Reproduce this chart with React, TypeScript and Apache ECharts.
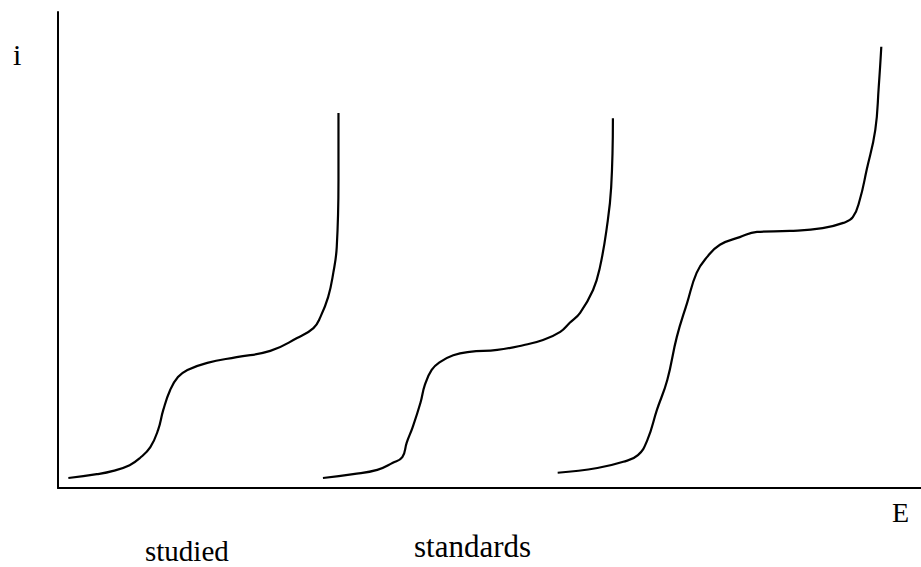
import React, { useEffect, useRef } from "react";
import * as echarts from "echarts";

// E (arbitrary units 0..100), i (arbitrary units 0..100)
const studiedE = [1.2, 4.5, 6.4, 8.3, 9.5, 10.7, 11.6, 12.2, 13.0, 13.9, 15.0, 17.3, 20.7, 24.6, 27.7, 29.6, 30.4, 31.3, 31.9, 32.3, 32.5, 32.5];
const studiedI = [2.1, 2.9, 3.6, 4.8, 6.3, 8.6, 12.2, 16.4, 20.6, 23.3, 24.8, 26.3, 27.5, 28.8, 31.5, 33.6, 35.9, 40.1, 45.2, 50.6, 64.7, 78.8];

const standard1E = [30.7, 34.2, 37.0, 38.8, 39.9, 40.4, 41.1, 42.0, 42.5, 43.3, 44.3, 45.8, 47.7, 50.9, 53.9, 56.2, 58.2, 59.3, 60.5, 62.0, 62.8, 63.6, 64.1, 64.3];
const standard1I = [2.1, 2.9, 3.8, 5.3, 6.5, 9.5, 12.8, 17.9, 21.6, 24.8, 26.5, 27.9, 28.6, 29.0, 30.0, 31.1, 32.8, 34.7, 36.8, 41.6, 46.4, 54.8, 63.2, 77.7];

const standard2E = [57.9, 62.5, 65.5, 67.2, 68.3, 69.4, 70.6, 71.7, 72.9, 74.0, 75.2, 76.7, 79.0, 81.0, 84.8, 88.6, 91.0, 92.1, 92.9, 93.7, 94.7, 95.1, 95.4];
const standard2I = [3.2, 4.2, 5.5, 6.9, 10.1, 16.4, 22.7, 31.7, 38.9, 45.2, 48.5, 51.1, 52.7, 53.8, 54.0, 54.6, 55.7, 56.9, 60.5, 66.8, 75.2, 84.2, 92.7];

const yLabel = "i";
const xLabel = "E";
const groupLabels = ["studied", "standards"];

const zip = (xs: number[], ys: number[]) => xs.map((x, k) => [x, ys[k]]);

export default function App() {
  const ref = useRef<HTMLDivElement>(null);
  useEffect(() => {
    if (!ref.current) return;
    const chart = echarts.init(ref.current, null, { renderer: "svg" });
    const font = '"Liberation Serif", "Times New Roman", serif';
    const lineSeries = (name: string, data: number[][]) => ({
      name,
      type: "line",
      data,
      smooth: 0.45,
      showSymbol: false,
      symbol: "none",
      lineStyle: { color: "#000", width: 2.2 },
    });
    chart.setOption({
      animation: false,
      backgroundColor: "#fff",
      grid: { left: 58, right: 0, top: 12, bottom: 79 },
      xAxis: {
        type: "value",
        min: 0,
        max: 100,
        axisLine: { show: true, lineStyle: { color: "#000", width: 2 } },
        axisTick: { show: false },
        axisLabel: { show: false },
        splitLine: { show: false },
      },
      yAxis: {
        type: "value",
        min: 0,
        max: 100,
        axisLine: { show: true, lineStyle: { color: "#000", width: 2 } },
        axisTick: { show: false },
        axisLabel: { show: false },
        splitLine: { show: false },
      },
      series: [
        lineSeries("studied", zip(studiedE, studiedI)),
        lineSeries("standard 1", zip(standard1E, standard1I)),
        lineSeries("standard 2", zip(standard2E, standard2I)),
      ],
      graphic: [
        { type: "text", left: 13, top: 39, style: { text: yLabel, font: `30px ${font}`, fill: "#000" } },
        { type: "text", left: 892, top: 498, style: { text: xLabel, font: `28px ${font}`, fill: "#000" } },
        { type: "text", left: 145, top: 536, style: { text: groupLabels[0], font: `29px ${font}`, fill: "#000" } },
        { type: "text", left: 414, top: 531, style: { text: groupLabels[1], font: `31px ${font}`, fill: "#000" } },
      ],
    });
    return () => chart.dispose();
  }, []);
  return <div ref={ref} style={{ position: "fixed", left: 0, top: 0, width: 921, height: 567 }} />;
}
